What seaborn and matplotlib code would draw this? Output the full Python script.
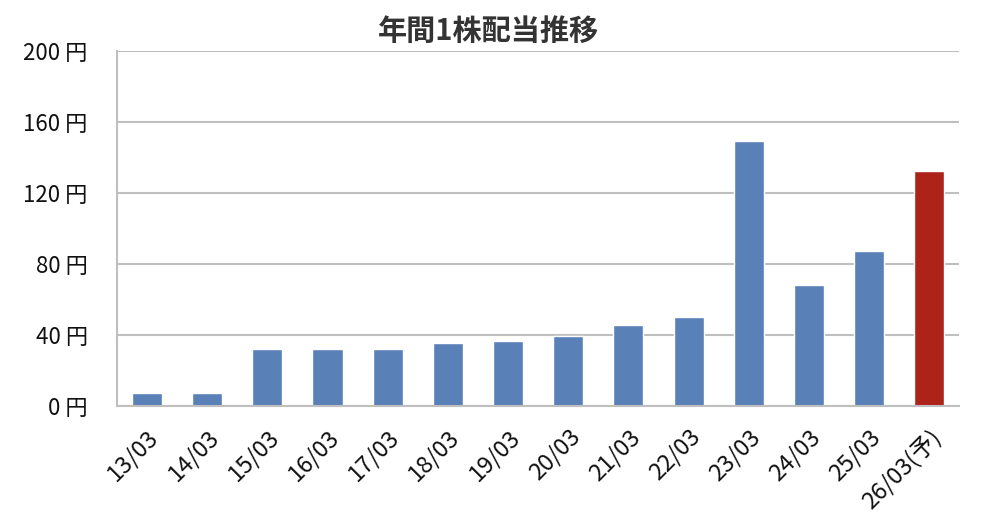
import matplotlib
matplotlib.use("Agg")
import matplotlib.pyplot as plt
import seaborn as sns

# data
years = ['13/03', '14/03', '15/03', '16/03', '17/03', '18/03', '19/03',
         '20/03', '21/03', '22/03', '23/03', '24/03', '25/03', '26/03(予)']
dividends = [7.25, 7.25, 32, 32, 32, 35.5, 36.5, 39, 45.5, 50, 149, 68, 87, 132]
bar_colors = ['#5a80b8'] * 13 + ['#ad2219']
yticks = [0, 40, 80, 120, 160, 200]

sns.set_style("white")
plt.rcParams['font.family'] = ['Noto Sans CJK JP', 'DejaVu Sans']

fig = plt.figure(figsize=(9.82, 5.3), dpi=100)
ax = fig.add_axes([0.119, 0.2345, 0.858, 0.6698])

sns.barplot(x=years, y=dividends, hue=years, palette=bar_colors,
            legend=False, width=0.5, saturation=1, ax=ax)

grid = '#bfbfbf'
ax.set_ylim(0, 200)
ax.set_xlim(-0.5, len(years) - 0.5)
ax.set_yticks(yticks)
ax.set_yticklabels([f'{v} 円' for v in yticks], fontsize=16, color='#111111')
ax.yaxis.grid(True, color=grid, linewidth=1.5)
ax.set_axisbelow(True)
ax.tick_params(axis='y', direction='out', length=7, width=1.5, color=grid, pad=14)

ax.set_xticks(range(len(years)))
ax.set_xticklabels(years, rotation=45, ha='right', rotation_mode='anchor',
                   fontsize=17, color='#111111')
ax.tick_params(axis='x', which='major', length=0, pad=14)
ax.set_xticks([i - 0.5 for i in range(len(years) + 1)], minor=True)
ax.tick_params(axis='x', which='minor', direction='in', length=10, width=1.5, color=grid)

for side in ['top', 'right']:
    ax.spines[side].set_visible(False)
for side in ['left', 'bottom']:
    ax.spines[side].set_color(grid)
    ax.spines[side].set_linewidth(1.5)

ax.set_xlabel('')
ax.set_ylabel('')
fig.suptitle('年間1株配当推移', x=0.497, y=0.942, va='center', fontsize=21,
             fontweight='bold', color='#333333')

fig.savefig('out.png', dpi=100)
